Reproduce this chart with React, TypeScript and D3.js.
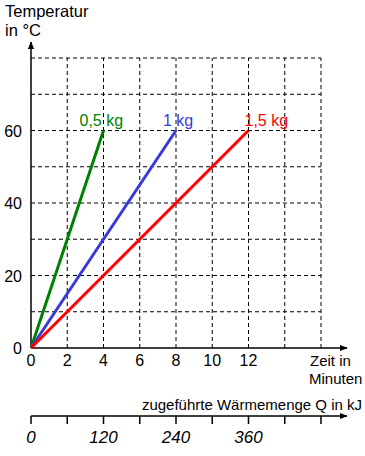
import React from 'react';
import * as d3 from 'd3';

// Zeit in Minuten / Temperatur in °C
const masses = ['0,5 kg', '1 kg', '1,5 kg'];
const endTimes = [4, 8, 12];
const endTemps = [60, 60, 60];
const colors = ['#008000', '#3a3ad8', '#ff0000'];

const xTickValues = [0, 2, 4, 6, 8, 10, 12];
const yTickValues = [0, 20, 40, 60];
const gridX = [2, 4, 6, 8, 10, 12, 14, 16];
const gridY = [10, 20, 30, 40, 50, 60, 70, 80];

// zweite Achse: Wärmemenge in kJ
const heatTicks = [0, 60, 120, 180, 240, 300, 360, 420, 480];
const heatLabels = [0, 120, 240, 360];

const FONT = 'Arial, "Liberation Sans", sans-serif';

export default function App() {
  const width = 365;
  const height = 456;

  const x = d3.scaleLinear().domain([0, 16]).range([31, 321]);
  const y = d3.scaleLinear().domain([0, 80]).range([348, 58]);
  const q = d3.scaleLinear().domain([0, 480]).range([31, 321]);
  const qY = 416;

  // label offsets relative to line end
  const labelDx = [-24, -13, -4];

  const line = d3.line<[number, number]>()
    .x(d => x(d[0]))
    .y(d => y(d[1]));

  return (
    <svg width={width} height={height}
         style={{ position: 'absolute', left: 0, top: 0, fontFamily: FONT }}>
      <defs>
        <marker id="arrow" viewBox="0 0 10 10" refX="9" refY="5"
                markerWidth="8" markerHeight="8" orient="auto-start-reverse"
                markerUnits="userSpaceOnUse">
          <path d="M0,1 L10,5 L0,9 Z" fill="#000" />
        </marker>
      </defs>

      {/* grid */}
      {gridX.map(v => (
        <line key={'gx' + v} x1={x(v)} x2={x(v)} y1={y(0)} y2={y(80)}
              stroke="#000" strokeWidth={1} strokeDasharray="4,3" />
      ))}
      {gridY.map(v => (
        <line key={'gy' + v} x1={x(0)} x2={x(16)} y1={y(v)} y2={y(v)}
              stroke="#000" strokeWidth={1} strokeDasharray="4,3" />
      ))}

      {/* axes */}
      <line x1={x(0)} x2={347} y1={y(0)} y2={y(0)} stroke="#000"
            strokeWidth={1.5} markerEnd="url(#arrow)" />
      <line x1={x(0)} x2={x(0)} y1={y(0)} y2={42} stroke="#000"
            strokeWidth={1.5} markerEnd="url(#arrow)" />

      {/* lines */}
      {masses.map((m, i) => (
        <path key={m}
              d={line([[0, 0], [endTimes[i], endTemps[i]]]) || ''}
              stroke={colors[i]} strokeWidth={3} fill="none" />
      ))}
      {masses.map((m, i) => (
        <text key={'l' + m} x={x(endTimes[i]) + labelDx[i]} y={y(endTemps[i]) - 5}
              fontSize={16} fill={colors[i]}>{m}</text>
      ))}

      {/* tick labels */}
      {xTickValues.map(v => (
        <text key={'xt' + v} x={x(v)} y={366} textAnchor="middle" fontSize={16}>{v}</text>
      ))}
      {yTickValues.map(v => (
        <text key={'yt' + v} x={22} y={y(v) + 6} textAnchor="end" fontSize={16}>{v}</text>
      ))}

      <text x={5} y={17} fontSize={16.5}>Temperatur</text>
      <text x={5} y={36} fontSize={16.5}>in °C</text>
      <text x={310} y={366} fontSize={15}>Zeit in</text>
      <text x={309} y={384} fontSize={15}>Minuten</text>

      {/* Wärmemenge axis */}
      <text x={362} y={410} textAnchor="end" fontSize={15}>zugeführte Wärmemenge Q in kJ</text>
      <line x1={q(0)} x2={347} y1={qY} y2={qY} stroke="#000"
            strokeWidth={1.5} markerEnd="url(#arrow)" />
      {heatTicks.map(v => (
        <line key={'qt' + v} x1={q(v)} x2={q(v)} y1={qY} y2={qY + 8}
              stroke="#000" strokeWidth={1.5} />
      ))}
      {heatLabels.map(v => (
        <text key={'ql' + v} x={q(v)} y={443} textAnchor="middle"
              fontSize={17} fontStyle="italic">{v}</text>
      ))}
    </svg>
  );
}
